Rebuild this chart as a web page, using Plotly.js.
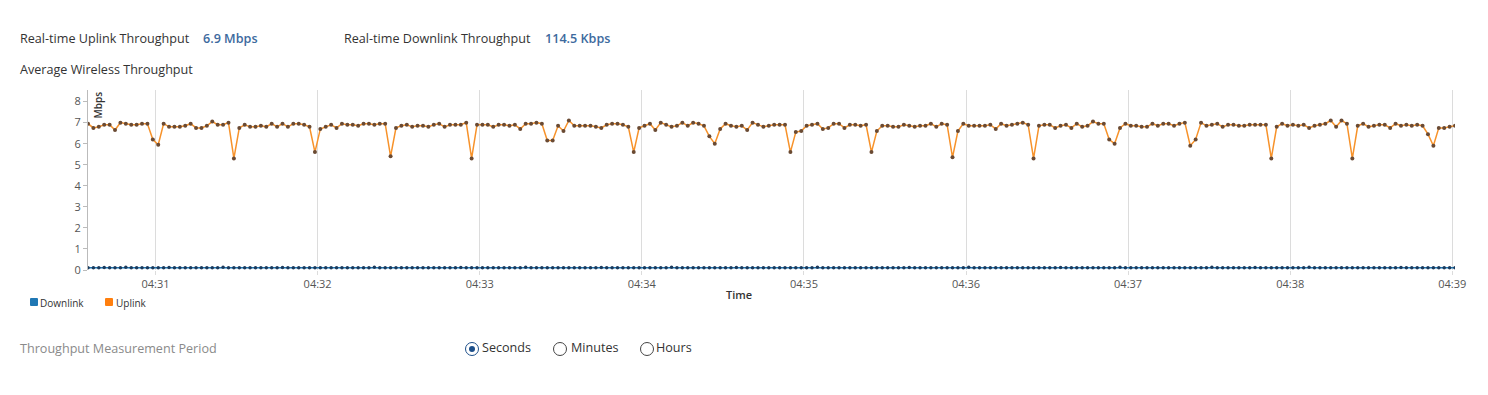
<!DOCTYPE html>
<html>
<head>
<meta charset="utf-8">
<script src="https://cdn.plot.ly/plotly-3.0.1.min.js"></script>
<style>
  html, body { margin: 0; padding: 0; background: #fff; width: 1488px; height: 395px; overflow: hidden; font-family: "Open Sans", sans-serif; }
  .t { position: absolute; white-space: nowrap; font-size: 12.6px; color: #333; line-height: 16px; }
  .v { color: #3d6a9e; font-weight: 600; }
  #chart { position: absolute; left: 0; top: 0; width: 1488px; height: 395px; }
  .sw { position: absolute; width: 8px; height: 8px; border-radius: 1px; }
  .lg { font-size: 10px; }
  .radio { position: absolute; width: 14px; height: 14px; border: 1.5px solid #444; border-radius: 50%; box-sizing: border-box; }
  .radio.on { border-color: #1d4f8a; }
  .radio.on::after { content: ""; position: absolute; left: 2.5px; top: 2.5px; width: 6px; height: 6px; border-radius: 50%; background: #1d4f8a; }
</style>
</head>
<body>
<div id="chart"></div>
<div class="t" style="left:20px;top:31px;">Real-time Uplink Throughput</div>
<div class="t v" style="left:203px;top:31px;">6.9 Mbps</div>
<div class="t" style="left:344px;top:31px;">Real-time Downlink Throughput</div>
<div class="t v" style="left:545px;top:31px;">114.5 Kbps</div>
<div class="t" style="left:20px;top:62px;">Average Wireless Throughput</div>

<div class="sw" style="left:30px;top:298px;background:#1f77b4;"></div>
<div class="t lg" style="left:40px;top:295px;">Downlink</div>
<div class="sw" style="left:105px;top:298px;background:#ff7f0e;"></div>
<div class="t lg" style="left:116px;top:295px;">Uplink</div>

<div class="t" style="left:20px;top:341px;color:#8a8a8a;">Throughput Measurement Period</div>
<div class="radio on" style="left:465px;top:342px;"></div>
<div class="t" style="left:482px;top:340px;">Seconds</div>
<div class="radio" style="left:553px;top:342px;"></div>
<div class="t" style="left:571px;top:340px;">Minutes</div>
<div class="radio" style="left:640px;top:342px;"></div>
<div class="t" style="left:656px;top:340px;">Hours</div>

<script>
// ---- data ----
const START_TIME = "2024-01-01T04:30:35";
const STEP_SECONDS = 2;

const uplinkMbps = [
  6.95, 6.75, 6.8, 6.9, 6.9, 6.65, 7.0, 6.95, 6.9, 6.9, 6.95, 6.95, 6.2, 5.95,
  6.95, 6.8, 6.8, 6.8, 6.85, 6.95, 6.75, 6.75, 6.85, 7.05, 6.9, 6.9, 7.0, 5.3,
  6.75, 6.9, 6.8, 6.8, 6.85, 6.8, 6.95, 6.8, 6.95, 6.8, 6.95, 6.95, 6.9, 6.8, 5.6,
  6.7, 6.8, 6.9, 6.75, 6.95, 6.9, 6.9, 6.85, 6.95, 6.95, 6.9, 6.95, 6.95, 5.4,
  6.75, 6.85, 6.9, 6.8, 6.85, 6.85, 6.8, 6.9, 6.95, 6.8, 6.9, 6.9, 6.9, 7.0, 5.3,
  6.9, 6.9, 6.9, 6.8, 6.9, 6.9, 6.85, 6.9, 6.7, 6.95, 6.95, 7.0, 6.95, 6.15, 6.15,
  6.85, 6.6, 7.1, 6.85, 6.85, 6.85, 6.85, 6.8, 6.75, 6.9, 6.95, 6.95, 6.9, 6.8, 5.6,
  6.75, 6.85, 6.95, 6.65, 7.0, 6.9, 6.8, 6.85, 7.0, 6.85, 7.0, 6.95, 6.85, 6.35, 6.0,
  6.7, 6.95, 6.85, 6.8, 6.85, 6.65, 7.0, 6.9, 6.8, 6.85, 6.9, 6.9, 6.9, 5.6,
  6.55, 6.6, 6.85, 6.9, 6.95, 6.7, 6.75, 6.95, 6.95, 6.75, 6.9, 6.9, 6.85, 6.9, 5.6,
  6.6, 6.85, 6.85, 6.8, 6.8, 6.9, 6.85, 6.8, 6.85, 6.85, 6.95, 6.8, 6.95, 6.9, 5.35,
  6.6, 6.95, 6.85, 6.85, 6.85, 6.85, 6.9, 6.7, 6.95, 6.85, 6.9, 6.95, 7.0, 6.9, 5.3,
  6.85, 6.9, 6.9, 6.75, 6.85, 6.9, 6.75, 6.95, 6.8, 6.85, 7.05, 6.95, 6.95, 6.2, 6.0,
  6.75, 6.95, 6.85, 6.85, 6.8, 6.8, 6.95, 6.85, 6.95, 6.95, 6.85, 6.95, 7.0, 5.9, 6.2,
  7.0, 6.85, 6.9, 6.95, 6.8, 6.9, 6.9, 6.85, 6.85, 6.9, 6.9, 6.9, 6.9, 5.3,
  6.8, 6.95, 6.85, 6.9, 6.85, 6.9, 6.75, 6.85, 6.9, 6.95, 7.1, 6.8, 7.1, 6.95, 5.3,
  6.85, 6.95, 6.8, 6.85, 6.9, 6.9, 6.75, 6.95, 6.85, 6.9, 6.85, 6.9, 6.85, 6.45, 5.9,
  6.75, 6.75, 6.8, 6.85
];

const downlinkMbps = [
  0.11, 0.11, 0.11, 0.12, 0.11, 0.11, 0.11, 0.13, 0.11, 0.11, 0.11, 0.11, 0.11, 0.11, 0.11, 0.12, 0.11, 0.11, 0.11, 0.11,
  0.11, 0.11, 0.11, 0.11, 0.11, 0.13, 0.11, 0.11, 0.11, 0.11, 0.11, 0.11, 0.11, 0.11, 0.11, 0.11, 0.12, 0.11, 0.11, 0.11,
  0.11, 0.11, 0.11, 0.11, 0.11, 0.11, 0.11, 0.11, 0.11, 0.11, 0.11, 0.11, 0.11, 0.13, 0.11, 0.11, 0.11, 0.11, 0.11, 0.11,
  0.11, 0.11, 0.11, 0.11, 0.11, 0.11, 0.11, 0.11, 0.11, 0.12, 0.11, 0.11, 0.11, 0.11, 0.11, 0.11, 0.11, 0.11, 0.11, 0.11,
  0.11, 0.13, 0.11, 0.11, 0.11, 0.11, 0.11, 0.11, 0.11, 0.11, 0.11, 0.11, 0.11, 0.11, 0.11, 0.12, 0.11, 0.11, 0.11, 0.11,
  0.11, 0.11, 0.11, 0.11, 0.11, 0.11, 0.11, 0.11, 0.13, 0.11, 0.11, 0.11, 0.11, 0.11, 0.11, 0.11, 0.11, 0.11, 0.11, 0.11,
  0.12, 0.11, 0.11, 0.11, 0.11, 0.11, 0.11, 0.11, 0.11, 0.11, 0.11, 0.11, 0.11, 0.11, 0.11, 0.13, 0.11, 0.11, 0.11, 0.11,
  0.11, 0.11, 0.11, 0.11, 0.11, 0.11, 0.11, 0.11, 0.11, 0.11, 0.11, 0.11, 0.12, 0.11, 0.11, 0.11, 0.11, 0.11, 0.11, 0.11,
  0.11, 0.11, 0.11, 0.13, 0.11, 0.11, 0.11, 0.11, 0.11, 0.11, 0.11, 0.11, 0.11, 0.11, 0.11, 0.11, 0.11, 0.11, 0.11, 0.11,
  0.12, 0.11, 0.11, 0.11, 0.11, 0.11, 0.11, 0.11, 0.11, 0.11, 0.11, 0.13, 0.11, 0.11, 0.11, 0.11, 0.11, 0.11, 0.11, 0.11,
  0.11, 0.11, 0.11, 0.11, 0.11, 0.11, 0.11, 0.11, 0.13, 0.11, 0.11, 0.11, 0.11, 0.11, 0.11, 0.11, 0.12, 0.11, 0.11, 0.11,
  0.11, 0.11, 0.11, 0.11, 0.11, 0.11, 0.13, 0.11, 0.11, 0.11, 0.11, 0.11, 0.11, 0.11, 0.11, 0.11, 0.11, 0.11, 0.11, 0.11,
  0.11, 0.11, 0.11, 0.12, 0.11, 0.11, 0.11, 0.11, 0.11, 0.11, 0.11, 0.11, 0.11, 0.11
];

const yTickValues = [0, 1, 2, 3, 4, 5, 6, 7, 8];
const xTitle = "Time";
const yTitle = "Mbps";

// ---- build ----
const startMs = new Date(START_TIME).getTime();
function fmt(ms) {
  const d = new Date(ms);
  const p = n => String(n).padStart(2, "0");
  return d.getFullYear() + "-" + p(d.getMonth() + 1) + "-" + p(d.getDate()) + " " +
         p(d.getHours()) + ":" + p(d.getMinutes()) + ":" + p(d.getSeconds());
}
const times = uplinkMbps.map((_, i) => fmt(startMs + i * STEP_SECONDS * 1000));

const traces = [
  {
    name: "Downlink", x: times, y: downlinkMbps, type: "scatter", mode: "lines+markers",
    line: { color: "#1f77b4", width: 1.5 },
    marker: { color: "#1b3a5c", size: 3.5 },
    hoverinfo: "skip"
  },
  {
    name: "Uplink", x: times, y: uplinkMbps, type: "scatter", mode: "lines+markers",
    line: { color: "#f7922a", width: 1.5 },
    marker: { color: "#6a4a33", size: 4 },
    hoverinfo: "skip"
  }
];

const layout = {
  width: 1488, height: 395,
  margin: { l: 88, r: 33, t: 90, b: 125, pad: 0 },
  paper_bgcolor: "rgba(0,0,0,0)", plot_bgcolor: "rgba(0,0,0,0)",
  showlegend: false,
  font: { family: "Open Sans, sans-serif", size: 11, color: "#555" },
  xaxis: {
    type: "date",
    range: [times[0], times[times.length - 1]],
    tickformat: "%H:%M", dtick: 60000, tick0: "2024-01-01 04:31:00",
    showgrid: true, gridcolor: "#dcdcdc", gridwidth: 1,
    ticks: "outside", ticklen: 4, tickcolor: "#dcdcdc",
    showline: false, zeroline: false,
    tickfont: { size: 11, color: "#555" }
  },
  yaxis: {
    range: [0, 8.55],
    tickvals: yTickValues,
    showgrid: false, zeroline: false,
    showline: true, linecolor: "#bbbbbb", linewidth: 1,
    ticks: "outside", ticklen: 4, tickcolor: "#bbbbbb",
    tickfont: { size: 11, color: "#555" }
  },
  annotations: [
    { text: yTitle, xref: "paper", yref: "paper", x: 0, y: 1, xshift: 0, yshift: 0,
      xanchor: "left", yanchor: "top", textangle: -90, showarrow: false,
      font: { size: 10, color: "#333", family: "Open Sans, sans-serif", weight: 600 } },
    { text: xTitle, xref: "paper", yref: "paper", x: (739 - 88) / 1367, y: 0, yshift: -15,
      xanchor: "center", yanchor: "top", showarrow: false,
      font: { size: 11, color: "#333", family: "Open Sans, sans-serif", weight: 600 } }
  ]
};

Plotly.newPlot("chart", traces, layout, { displayModeBar: false, staticPlot: true });
</script>
</body>
</html>
